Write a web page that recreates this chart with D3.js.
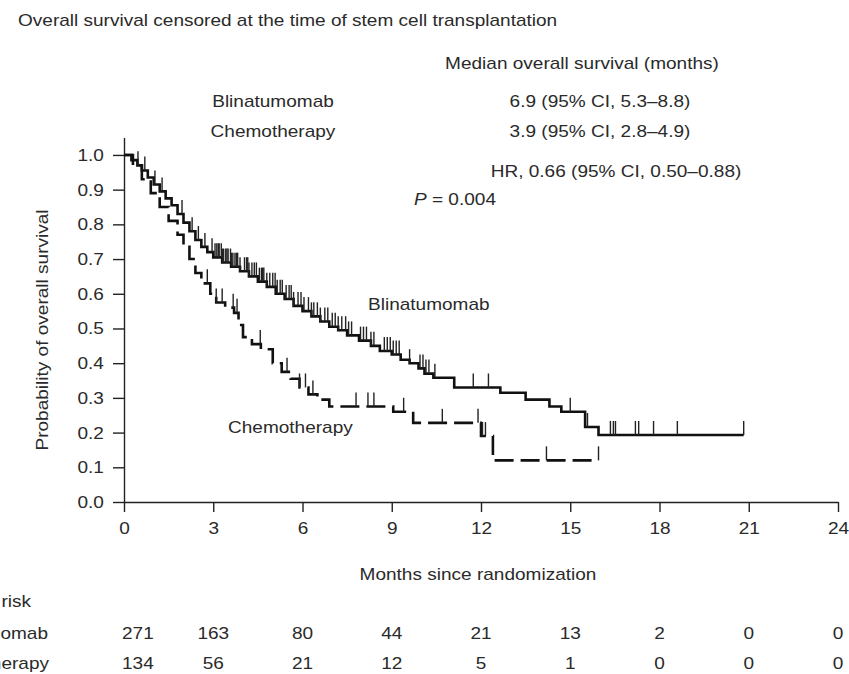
<!DOCTYPE html>
<html>
<head>
<meta charset="utf-8">
<script src="https://cdn.jsdelivr.net/npm/d3@7"></script>
<style>
  body { margin: 0; background: #fff; }
  svg { display: block; font-family: "Liberation Sans", Arial, sans-serif; }
  text { fill: #2a2a2a; }
</style>
</head>
<body>
<div id="chart"></div>
<script>
// Chart size
const width = 849;
const height = 674;
// The source lettering is a little wider than Arial, so text gets stretched sideways
const fontSize = 17;
const stretch = 1.12;

// Kaplan-Meier steps: time (months) and survival after each drop
const blinaTimes = [0.25, 0.45, 0.6, 0.8, 1.0, 1.2, 1.4, 1.6, 1.8, 2.0, 2.2, 2.4, 2.6, 2.8, 3.0, 3.3, 3.6, 3.9,
  4.2, 4.5, 4.8, 5.1, 5.4, 5.7, 6.0, 6.3, 6.6, 6.9, 7.2, 7.5, 7.9, 8.3, 8.6, 9.0, 9.3, 9.6, 9.9, 10.1, 10.4,
  11.1, 12.65, 13.5, 14.3, 14.7, 15.5, 15.95];
const blinaSurv = [0.985, 0.97, 0.955, 0.935, 0.915, 0.895, 0.875, 0.855, 0.83, 0.805, 0.78, 0.755, 0.735, 0.72,
  0.705, 0.69, 0.678, 0.665, 0.65, 0.635, 0.62, 0.60, 0.585, 0.565, 0.55, 0.535, 0.52, 0.505, 0.495, 0.48,
  0.465, 0.45, 0.435, 0.425, 0.41, 0.40, 0.385, 0.37, 0.358, 0.33, 0.315, 0.295, 0.275, 0.26, 0.216, 0.193];
const blinaCensor = [0.47, 0.7, 1.04, 1.28, 1.95, 2.29, 2.5, 2.72, 2.96, 3.06, 3.12, 3.17, 3.2, 3.27, 3.31,
  3.35, 3.42, 3.46, 3.5, 3.58, 3.62, 3.66, 3.73, 3.78, 3.82, 3.9, 4.05, 4.12, 4.16, 4.2, 4.3, 4.38, 4.45,
  4.55, 4.62, 4.66, 4.7, 4.8, 4.9, 5.0, 5.08, 5.15, 5.25, 5.32, 5.45, 5.55, 5.62, 5.7, 5.85, 5.95, 6.05,
  6.2, 6.3, 6.38, 6.5, 6.6, 6.75, 6.85, 7.0, 7.1, 7.2, 7.32, 7.45, 7.55, 7.65, 7.95, 8.05, 8.15, 8.3, 8.4,
  8.75, 8.85, 8.95, 9.05, 9.15, 9.25, 9.6, 9.95, 10.05, 10.15, 10.25, 10.45, 11.74, 12.25, 15.0, 15.58,
  16.35, 16.45, 16.52, 17.19, 17.3, 17.8, 18.6, 20.83];

const chemoTimes = [0.3, 0.6, 0.9, 1.2, 1.5, 1.8, 2.0, 2.2, 2.4, 2.6, 2.9, 3.1, 3.4, 3.7, 3.85, 4.0, 4.3, 4.6,
  5.0, 5.3, 5.6, 5.9, 6.2, 6.5, 6.9, 9.05, 9.72, 12.0, 12.4];
const chemoSurv = [0.97, 0.93, 0.89, 0.85, 0.81, 0.77, 0.74, 0.70, 0.66, 0.63, 0.60, 0.575, 0.56, 0.545, 0.51,
  0.475, 0.455, 0.44, 0.40, 0.375, 0.355, 0.33, 0.31, 0.295, 0.275, 0.26, 0.228, 0.19, 0.12];
const chemoCensor = [2.8, 3.1, 3.3, 3.67, 3.8, 4.58, 5.48, 5.9, 6.1, 6.35, 7.8, 8.2, 8.4, 9.4, 10.7, 11.9,
  12.05, 12.15, 14.2, 15.95];

// Number at risk table
const riskMonths = [0, 3, 6, 9, 12, 15, 18, 21, 24];
const blinaRisk = [271, 163, 80, 44, 21, 13, 2, 0, 0];
const chemoRisk = [134, 56, 21, 12, 5, 1, 0, 0, 0];

// Axis ticks
const xTicks = [0, 3, 6, 9, 12, 15, 18, 21, 24];
const yTicks = [0, 0.1, 0.2, 0.3, 0.4, 0.5, 0.6, 0.7, 0.8, 0.9, 1.0];

const svg = d3.select("#chart")
  .append("svg")
  .attr("width", width)
  .attr("height", height);

const x = d3.scaleLinear().domain([0, 24]).range([124, 838]);
const y = d3.scaleLinear().domain([0, 1.05]).range([502, 137.6]);

// Put a piece of text at (tx, ty), stretched sideways like the source lettering
function label(parent, tx, ty, str, anchor = "start") {
  return parent.append("text")
    .attr("transform", `translate(${tx},${ty}) scale(${stretch},1)`)
    .attr("text-anchor", anchor)
    .attr("font-size", fontSize)
    .text(str);
}

// Title
label(svg, 18, 26, "Overall survival censored at the time of stem cell transplantation");

// Axes
const yAxis = svg.append("g")
  .attr("transform", `translate(${x(0)},0)`)
  .call(d3.axisLeft(y).tickValues(yTicks).tickFormat(d3.format(".1f")).tickSize(11).tickSizeOuter(0).tickPadding(7));
const xAxis = svg.append("g")
  .attr("transform", `translate(0,${y(0)})`)
  .call(d3.axisBottom(x).tickValues(xTicks).tickSize(10).tickSizeOuter(0).tickPadding(10));

[xAxis, yAxis].forEach(a => {
  a.selectAll("path, line").attr("stroke", "#222").attr("stroke-width", 1.4);
  a.selectAll("text")
    .attr("font-size", fontSize)
    .attr("fill", "#2a2a2a")
    .attr("font-family", "Liberation Sans, Arial, sans-serif")
    .attr("transform", `scale(${stretch},1)`);
});

// Axis titles
svg.append("text")
  .attr("transform", `translate(48,330) rotate(-90) scale(${stretch},1)`)
  .attr("text-anchor", "middle")
  .attr("font-size", fontSize)
  .text("Probability of overall survival");

label(svg, 478, 580, "Months since randomization", "middle");

// Survival curves
function stepPoints(times, surv, lastTime) {
  const pts = [[0, 1]];
  times.forEach((t, i) => pts.push([t, surv[i]]));
  pts.push([lastTime, surv[surv.length - 1]]);
  return pts;
}
function survAt(times, surv, t) {
  const i = d3.bisectRight(times, t);
  return i === 0 ? 1 : surv[i - 1];
}

const line = d3.line()
  .x(d => x(d[0]))
  .y(d => y(d[1]))
  .curve(d3.curveStepAfter);

const curves = [
  { times: blinaTimes, surv: blinaSurv, censor: blinaCensor, dash: null },
  { times: chemoTimes, surv: chemoSurv, censor: chemoCensor, dash: "19,7" }
];

curves.forEach(c => {
  svg.append("path")
    .attr("d", line(stepPoints(c.times, c.surv, d3.max(c.censor))))
    .attr("fill", "none")
    .attr("stroke", "#111")
    .attr("stroke-width", 2.6)
    .attr("stroke-dasharray", c.dash);

  // Censor marks
  svg.append("g")
    .selectAll("line")
    .data(c.censor)
    .join("line")
    .attr("x1", d => x(d)).attr("x2", d => x(d))
    .attr("y1", d => y(survAt(c.times, c.surv, d)))
    .attr("y2", d => y(survAt(c.times, c.surv, d)) - 14)
    .attr("stroke", "#222")
    .attr("stroke-width", 1.4);
});

// Curve labels
label(svg, 368, 310, "Blinatumomab");
label(svg, 228, 433, "Chemotherapy");

// Median survival block
const notes = svg.append("g");
label(notes, 582, 69, "Median overall survival (months)", "middle");
label(notes, 273, 107, "Blinatumomab", "middle");
label(notes, 273, 137, "Chemotherapy", "middle");
label(notes, 600, 107, "6.9 (95% CI, 5.3\u20138.8)", "middle");
label(notes, 600, 137, "3.9 (95% CI, 2.8\u20134.9)", "middle");
label(notes, 616, 177, "HR, 0.66 (95% CI, 0.50\u20130.88)", "middle");
const pText = label(notes, 414, 205, "");
pText.append("tspan").attr("font-style", "italic").text("P");
pText.append("tspan").text(" = 0.004");

// Number at risk (row names run off the left edge, as in the source)
const risk = svg.append("g");
label(risk, 31, 607, "Number at risk", "end");
label(risk, 48, 639, "Blinatumomab", "end");
label(risk, 49, 669, "Chemotherapy", "end");

[[blinaRisk, 639], [chemoRisk, 669]].forEach(([vals, yy]) => {
  risk.append("g")
    .selectAll("text")
    .data(vals)
    .join("text")
    .attr("transform", (d, i) => `translate(${i === 0 ? x(riskMonths[i]) - 2 : x(riskMonths[i])},${yy}) scale(${stretch},1)`)
    .attr("text-anchor", (d, i) => i === 0 ? "start" : "middle")
    .attr("font-size", fontSize)
    .text(d => d);
});
</script>
</body>
</html>
